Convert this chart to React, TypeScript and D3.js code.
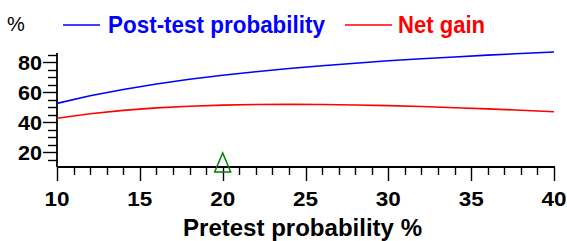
import React from 'react';
import * as d3 from 'd3';

// pretest probability (%)
const pretest = [10, 12, 14, 16, 18, 20, 22, 24, 26, 28, 30, 32, 34, 36, 38, 40];
// post-test probability (%)
const postTest = [52.6, 57.7, 61.9, 65.6, 68.7, 71.4, 73.8, 75.9, 77.8, 79.5, 81.1, 82.5, 83.7, 84.9, 86.0, 87.0];
// net gain (%)
const netGain = [42.6, 45.7, 47.9, 49.6, 50.7, 51.4, 51.8, 51.9, 51.8, 51.5, 51.1, 50.5, 49.7, 48.9, 48.0, 47.0];

const xTickLabels = [10, 15, 20, 25, 30, 35, 40];
const yTickLabels = [20, 40, 60, 80];
const markerX = 20;

const width = 567;
const height = 241;
const font = '"Liberation Sans", Arial, sans-serif';

const App = () => {
    const x = d3.scaleLinear().domain([10, 40]).range([57, 554]);
    const y = d3.scaleLinear().domain([10, 87]).range([167, 52]);

    const line = d3.line<number>()
        .x((d, i) => x(pretest[i]))
        .y(d => y(d));

    const xMinor = d3.range(10, 41, 1);
    const yMinor = d3.range(15, 86, 5);

    const mx = x(markerX);
    const tri = `M${mx},153 L${mx - 8},172 L${mx + 8},172 Z`;

    return (
        <svg width={width} height={height} style={{ position: 'absolute', left: 0, top: 0, background: '#fff' }}
            fontFamily={font}>
            {/* y axis */}
            <line x1={57} x2={57} y1={53} y2={167} stroke="#000" strokeWidth={1.8} />
            {yMinor.map(v => (
                <line key={'ym' + v} x1={yTickLabels.includes(v) ? 43 : 48} x2={57}
                    y1={Math.round(y(v)) + 0.5} y2={Math.round(y(v)) + 0.5} stroke="#000" strokeWidth={1.4} />
            ))}
            {yTickLabels.map(v => (
                <text key={'yl' + v} x={42} y={y(v) + 7.5} textAnchor="end" fontSize={21} fontWeight="bold"
                    textLength={24} lengthAdjust="spacingAndGlyphs">{v}</text>
            ))}
            <text x={7} y={31} fontSize={20}>%</text>

            {/* x axis */}
            <line x1={57} x2={555} y1={167} y2={167} stroke="#000" strokeWidth={1.8} />
            {xMinor.map(v => (
                <line key={'xm' + v} x1={Math.round(x(v)) + 0.5} x2={Math.round(x(v)) + 0.5}
                    y1={167} y2={v % 5 === 0 ? 181 : 175} stroke="#000" strokeWidth={1.4} />
            ))}
            {xTickLabels.map(v => (
                <text key={'xl' + v} x={x(v)} y={206} textAnchor="middle" fontSize={21} fontWeight="bold"
                    textLength={25} lengthAdjust="spacingAndGlyphs">{v}</text>
            ))}
            <text x={183} y={236} fontSize={23} fontWeight="bold" textLength={239}
                lengthAdjust="spacingAndGlyphs">Pretest probability %</text>

            {/* series */}
            <path d={line(postTest) || ''} fill="none" stroke="#0000ff" strokeWidth={1.6} />
            <path d={line(netGain) || ''} fill="none" stroke="#ff0000" strokeWidth={1.6} />

            {/* pretest marker */}
            <path d={tri} fill="none" stroke="#008000" strokeWidth={1.5} />

            {/* legend */}
            <line x1={63} x2={100} y1={25} y2={25} stroke="#0000ff" strokeWidth={1.5} />
            <text x={108} y={33} fontSize={23} fontWeight="bold" fill="#0000ff" textLength={217}
                lengthAdjust="spacingAndGlyphs">Post-test probability</text>
            <line x1={345} x2={392} y1={25} y2={25} stroke="#ff0000" strokeWidth={1.5} />
            <text x={398} y={33} fontSize={23} fontWeight="bold" fill="#ff0000" textLength={87}
                lengthAdjust="spacingAndGlyphs">Net gain</text>
        </svg>
    );
};

export default App;
